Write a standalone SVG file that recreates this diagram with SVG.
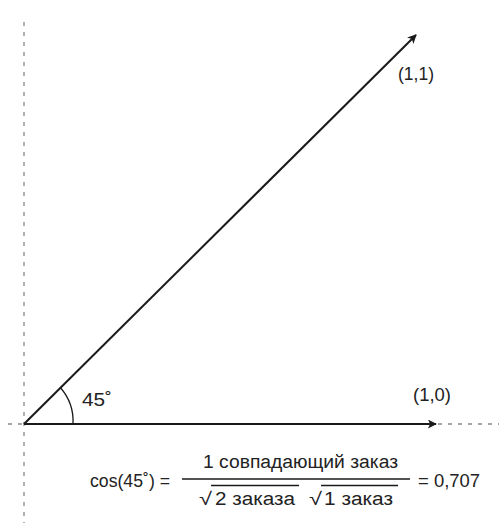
<svg xmlns="http://www.w3.org/2000/svg" width="499" height="523" viewBox="0 0 499 523">
<defs>
<style>
.axis{stroke:#888;stroke-width:1.3;stroke-dasharray:4 6;fill:none}
.vec{stroke:#1a1a1a;stroke-width:2;fill:none}
.thin{stroke:#1a1a1a;stroke-width:1.3;fill:none}
text{font-family:"Liberation Sans","DejaVu Sans",sans-serif;font-size:18px;fill:#222}
</style>
<marker id="ah" viewBox="0 0 10 10" refX="9" refY="5" markerWidth="10" markerHeight="9" markerUnits="userSpaceOnUse" orient="auto"><path d="M0,0 L10,5 L0,10 L2.5,5 z" fill="#1a1a1a"/></marker>
</defs>
<g id="axes">
<line class="axis" x1="24" y1="22" x2="24" y2="523"/>
<line class="axis" x1="8" y1="424" x2="499" y2="424"/>
</g>
<g id="connectors">
<line class="vec" x1="24" y1="424" x2="436" y2="424" marker-end="url(#ah)"/>
<line class="vec" x1="24" y1="424" x2="416" y2="35" marker-end="url(#ah)"/>
<path class="thin" d="M60.5,387.8 A51,51 0 0 1 73,424"/>
</g>
<g id="label-11"><text x="398" y="80" textLength="36" lengthAdjust="spacingAndGlyphs">(1,1)</text></g>
<g id="label-10"><text x="413" y="401" textLength="38" lengthAdjust="spacingAndGlyphs">(1,0)</text></g>
<g id="label-45"><text x="82" y="406" textLength="30" lengthAdjust="spacingAndGlyphs">45˚</text></g>
<g id="formula">
<text x="90" y="487" textLength="80" lengthAdjust="spacingAndGlyphs">cos(45˚) =</text>
<text x="203" y="468" textLength="195" lengthAdjust="spacingAndGlyphs">1 совпадающий заказ</text>
<line class="thin" x1="182" y1="479" x2="410" y2="479"/>
<text x="199" y="505" textLength="13" lengthAdjust="spacingAndGlyphs">√</text>
<line class="thin" x1="211" y1="485.5" x2="299" y2="485.5" stroke-width="1"/>
<text x="215" y="505" textLength="80" lengthAdjust="spacingAndGlyphs">2 заказа</text>
<text x="309" y="505" textLength="13" lengthAdjust="spacingAndGlyphs">√</text>
<line class="thin" x1="321" y1="485.5" x2="398" y2="485.5" stroke-width="1"/>
<text x="324" y="505" textLength="69" lengthAdjust="spacingAndGlyphs">1 заказ</text>
<text x="418" y="487" textLength="62" lengthAdjust="spacingAndGlyphs">= 0,707</text>
</g>
</svg>
